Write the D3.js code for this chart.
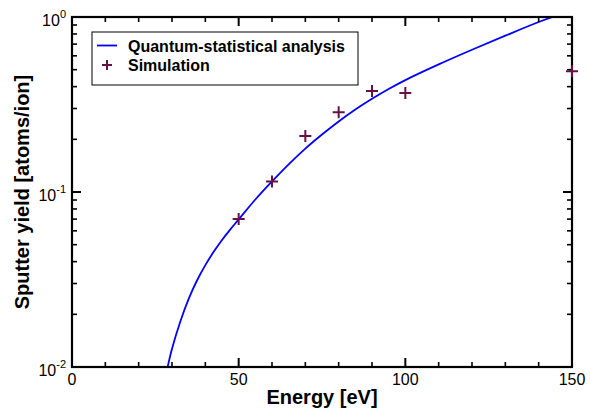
<!DOCTYPE html>
<html>
<head>
<meta charset="utf-8">
<script src="https://cdn.jsdelivr.net/npm/d3@7"></script>
<style>
  body { margin: 0; background: #fff; }
  svg { display: block; font-family: "Liberation Sans", Arial, sans-serif; }
</style>
</head>
<body>
<script>
// quantum-statistical curve
var curveEnergy = [28.7, 30, 32.5, 35, 37.5, 40, 42.5, 45, 47.5, 50, 55, 60, 65, 70, 75, 80, 85, 90, 95, 100, 110, 120, 130, 140, 144.2];
var curveYield  = [0.0100, 0.0127, 0.0182, 0.0245, 0.0312, 0.0382, 0.0455, 0.0532, 0.0612, 0.0697, 0.0906, 0.115, 0.144, 0.177, 0.213, 0.253, 0.296, 0.341, 0.388, 0.436, 0.536, 0.650, 0.782, 0.936, 1.0];

// simulation points
var simEnergy = [50, 60, 70, 80, 90, 100, 150];
var simYield  = [0.070, 0.115, 0.209, 0.286, 0.378, 0.368, 0.49];

var xMajor = [0, 50, 100, 150];
var yMajorExp = [-2, -1, 0];

var width = 590, height = 409;
var pLeft = 72, pRight = 572, pTop = 17, pBottom = 367;

var svg = d3.select('body').append('svg')
    .attr('width', width)
    .attr('height', height);

var x = d3.scaleLinear().domain([0, 150]).range([pLeft, pRight]);
var y = d3.scaleLog().domain([0.01, 1]).range([pBottom, pTop]);

var xMinor = d3.range(0, 151, 10).filter(function(d) { return xMajor.indexOf(d) < 0; });
var yMajor = yMajorExp.map(function(e) { return Math.pow(10, e); });
var yMinor = [];
[0.01, 0.1].forEach(function(b) {
  for (var k = 2; k <= 9; k++) yMinor.push(b * k);
});

// x tick labels
svg.selectAll('.xlab').data(xMajor).enter().append('text')
    .attr('x', function(d) { return x(d); })
    .attr('y', 385)
    .attr('text-anchor', 'middle')
    .attr('font-size', 16)
    .text(function(d) { return d; });

// y tick labels 10^n
var ylab = svg.selectAll('.ylab').data(yMajorExp).enter().append('text')
    .attr('x', 66)
    .attr('y', function(d) { return y(Math.pow(10, d)) + 8.5; })
    .attr('text-anchor', 'end')
    .attr('font-size', 16);
ylab.append('tspan').text('10');
ylab.append('tspan').attr('dy', -8).attr('font-size', 11)
    .text(function(d) { return d; });

// axis titles
svg.append('text')
    .attr('x', (pLeft + pRight) / 2).attr('y', 404)
    .attr('text-anchor', 'middle')
    .attr('font-size', 20).attr('font-weight', 'bold')
    .text('Energy [eV]');
svg.append('text')
    .attr('transform', 'translate(29,' + ((pTop + pBottom) / 2) + ') rotate(-90)')
    .attr('text-anchor', 'middle')
    .attr('font-size', 20).attr('font-weight', 'bold')
    .text('Sputter yield [atoms/ion]');

// curve, clipped to the plot area
svg.append('clipPath').attr('id', 'plotclip')
  .append('rect')
    .attr('x', pLeft).attr('y', pTop)
    .attr('width', pRight - pLeft).attr('height', pBottom - pTop);

var line = d3.line()
    .x(function(d) { return x(d[0]); })
    .y(function(d) { return y(d[1]); })
    .curve(d3.curveCatmullRom);

svg.append('path')
    .datum(d3.zip(curveEnergy, curveYield))
    .attr('d', line)
    .attr('clip-path', 'url(#plotclip)')
    .attr('fill', 'none')
    .attr('stroke', '#0000ff')
    .attr('stroke-width', 1.8);

// frame
svg.append('rect')
    .attr('x', pLeft).attr('y', pTop)
    .attr('width', pRight - pLeft).attr('height', pBottom - pTop)
    .attr('fill', 'none').attr('stroke', '#000').attr('stroke-width', 2.2);

// inward ticks on all four sides
var ticks = svg.append('g');
function tick(x1, y1, x2, y2, w) {
  ticks.append('line')
      .attr('x1', x1).attr('y1', y1).attr('x2', x2).attr('y2', y2)
      .style('stroke', '#000').style('stroke-width', w + 'px');
}
function xTicks(vals, len, w) {
  vals.forEach(function(v) {
    tick(x(v), pBottom, x(v), pBottom - len, w);
    tick(x(v), pTop, x(v), pTop + len, w);
  });
}
function yTicks(vals, len, w) {
  vals.forEach(function(v) {
    tick(pLeft, y(v), pLeft + len, y(v), w);
    tick(pRight, y(v), pRight - len, y(v), w);
  });
}
xTicks(xMajor, 9, 2);
xTicks(xMinor, 5, 1.6);
yTicks(yMajor, 9, 2);
yTicks(yMinor, 5, 1.6);

// simulation markers
var plusColor = '#661144';
function plus(sel, s) {
  sel.append('path')
      .attr('d', 'M' + (-s) + ',0H' + s + 'M0,' + (-s) + 'V' + s)
      .attr('stroke', plusColor)
      .attr('stroke-width', 2)
      .attr('fill', 'none');
}
svg.selectAll('.sim').data(d3.zip(simEnergy, simYield)).enter().append('g')
    .attr('transform', function(d) { return 'translate(' + x(d[0]) + ',' + y(d[1]) + ')'; })
    .call(plus, 6);

// legend
var legend = svg.append('g');
legend.append('rect')
    .attr('x', 92).attr('y', 32)
    .attr('width', 266).attr('height', 53)
    .attr('fill', '#fff').attr('stroke', '#000').attr('stroke-width', 1);
legend.append('line')
    .attr('x1', 97).attr('x2', 117).attr('y1', 45.5).attr('y2', 45.5)
    .attr('stroke', '#0000ff').attr('stroke-width', 1.8);
legend.append('g').attr('transform', 'translate(107,65)').call(plus, 5);
legend.append('text')
    .attr('x', 128).attr('y', 51.5)
    .attr('font-size', 16).attr('font-weight', 'bold')
    .text('Quantum-statistical analysis');
legend.append('text')
    .attr('x', 128).attr('y', 71)
    .attr('font-size', 16).attr('font-weight', 'bold')
    .text('Simulation');
</script>
</body>
</html>
